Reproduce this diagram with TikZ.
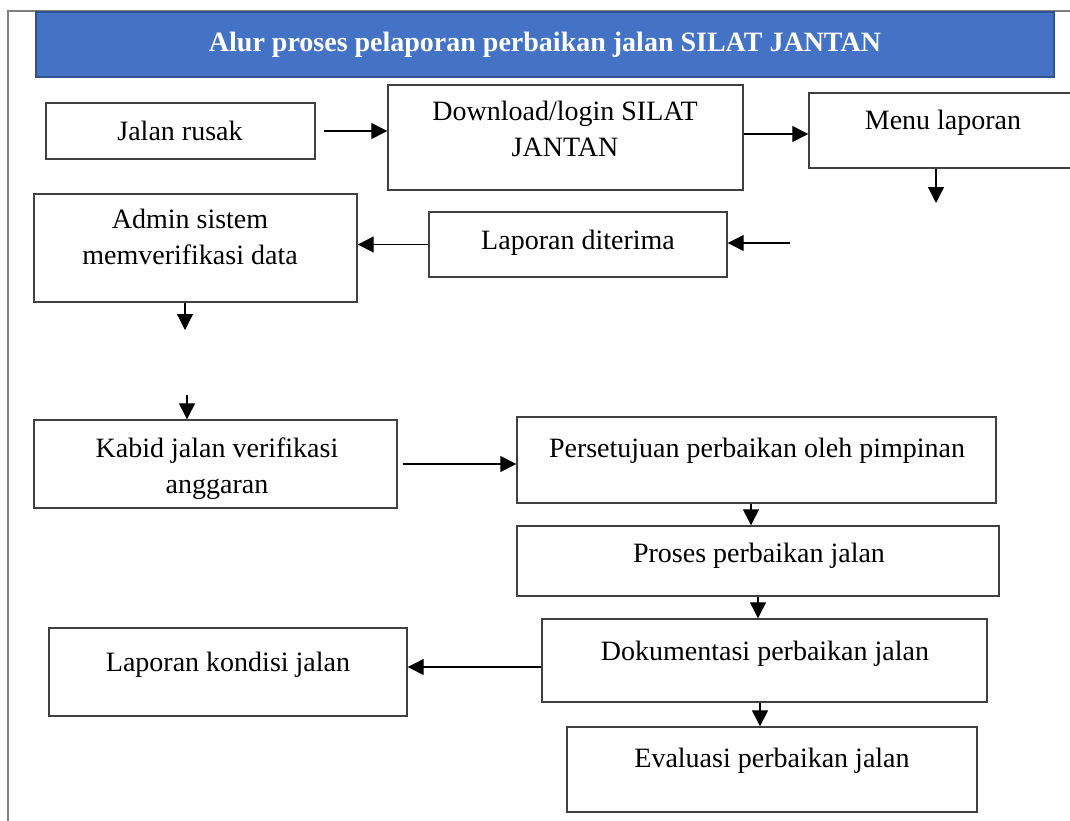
\documentclass[tikz,border=0pt]{standalone}
\usepackage{fontspec}
\setmainfont{Liberation Serif}
\usetikzlibrary{arrows.meta}
\usetikzlibrary{fit}
\definecolor{mblue}{HTML}{4472C4}
\definecolor{mblueedge}{HTML}{2F528F}
\definecolor{mgray}{HTML}{404040}
\tikzset{box/.style = {draw=mgray, line width=0.7pt, inner sep=0pt},
         txt/.style = {anchor=base, align=center, inner sep=0pt,
                       font=\fontsize{14pt}{18pt}\selectfont},
         arr/.style = {-{Triangle[length=8pt,width=8pt]}, line width=0.6pt}}

\begin{document}
\begin{tikzpicture}[x=0.5pt, y=-0.5pt]
  \useasboundingbox (0,0) rectangle (1070,820);
  \clip (0,0) rectangle (1070,820);
  % outer frame
  \draw [gray, line width=0.8pt] (8,830) -- (8,11) -- (1080,11);
  % title bar
  \node [fill=mblue, draw=mblueedge, line width=1pt, inner sep=0pt, fit={(36,12) (1054,77)}] (title) {};
  \node [txt, text=white, font=\bfseries\fontsize{14pt}{18pt}\selectfont] (titlet) at (545,51)
        {Alur proses pelaporan perbaikan jalan SILAT JANTAN};
  % boxes
  \node [box, fit={(46,103) (315,159)}] (rusak) {};
  \node [box, fit={(388,85) (743,190)}] (dl) {};
  \node [box, fit={(809,93) (1078,168)}] (menu) {};
  \node [box, fit={(429,212) (727,277)}] (terima) {};
  \node [box, fit={(34,194) (357,302)}] (admin) {};
  \node [box, fit={(34,420) (397,508)}] (kabid) {};
  \node [box, fit={(517,417) (996,503)}] (setuju) {};
  \node [box, fit={(517,526) (999,596)}] (proses) {};
  \node [box, fit={(542,619) (987,702)}] (doku) {};
  \node [box, fit={(49,628) (407,716)}] (kondisi) {};
  \node [box, fit={(567,727) (977,812)}] (eval) {};
  % texts (two-line texts sit on their last baseline)
  \node [txt] (rusakt) at (180,140) {Jalan rusak};
  \node [txt] (dlt) at (565,156) {Download/login SILAT\\JANTAN};
  \node [txt] (menut) at (943,129) {Menu laporan};
  \node [txt] (terimat) at (578,249) {Laporan diterima};
  \node [txt] (admint) at (190,264) {Admin sistem\\memverifikasi data};
  \node [txt] (kabidt) at (217,493) {Kabid jalan verifikasi\\anggaran};
  \node [txt] (setujut) at (757,457) {Persetujuan perbaikan oleh pimpinan};
  \node [txt] (prosest) at (759,562) {Proses perbaikan jalan};
  \node [txt] (dokut) at (765,660) {Dokumentasi perbaikan jalan};
  \node [txt] (kondisit) at (228,671) {Laporan kondisi jalan};
  \node [txt] (evalt) at (772,767) {Evaluasi perbaikan jalan};
  % connectors
  \coordinate (menuout) at (936,203);
  \coordinate (terimain) at (790,243);
  \coordinate (adminout) at (185,330);
  \coordinate (kabidin) at (187,395);
  \coordinate (dlright) at ([yshift=1.75pt]dl.east);
  \coordinate (setujuout) at ([xshift=-2.75pt]setuju.south);
  \coordinate (dokuleft) at ([yshift=-3.25pt]doku.west);
  \coordinate (dokuout) at ([xshift=-2.25pt]doku.south);
  \draw [arr, shorten <=4pt] (rusak) -- (rusak -| dl.west);
  \draw [arr] (dlright) -- (dlright -| menu.west);
  \draw [arr] (menu.south -| menuout) -- (menuout);
  \draw [arr] (terimain) -- (terimain -| terima.east);
  \draw [arr] (terima) -- (terima -| admin.east);
  \draw [arr] (admin.south -| adminout) -- (adminout);
  \draw [arr] (kabidin) -- (kabidin |- kabid.north);
  \draw [arr, shorten <=2.5pt] (kabid) -- (kabid -| setuju.west);
  \draw [arr] (setujuout) -- (setujuout |- proses.north);
  \draw [arr] (proses.south) -- (proses.south |- doku.north);
  \draw [arr] (dokuleft) -- (dokuleft -| kondisi.east);
  \draw [arr] (dokuout) -- (dokuout |- eval.north);
\end{tikzpicture}
\end{document}
